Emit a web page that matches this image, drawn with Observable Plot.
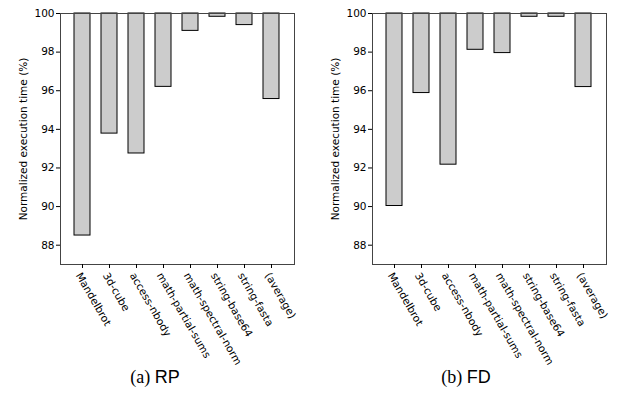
<!DOCTYPE html>
<html>
<head>
<meta charset="utf-8">
<script src="https://cdn.jsdelivr.net/npm/d3@7"></script>
<script src="https://cdn.jsdelivr.net/npm/@observablehq/plot@0.6"></script>
<style>
  html, body { margin: 0; padding: 0; background: #fff; }
  #wrap { position: relative; width: 623px; height: 401px; overflow: hidden; }
  .panel { position: absolute; top: 0; }
  .panel svg { overflow: visible; }
  .cap { position: absolute; top: 367px; width: 200px; text-align: center; font-size: 18px; color: #000; white-space: nowrap; }
  .cap .s { font-family: "Liberation Serif", serif; }
  .cap .a { font-family: "Liberation Sans", sans-serif; }
</style>
</head>
<body>
<div id="wrap">
  <div class="panel" id="p1" style="left:0px"></div>
  <div class="panel" id="p2" style="left:312px"></div>
  <div class="cap" style="left:55px"><span class="s">(a)</span> <span class="a">RP</span></div>
  <div class="cap" style="left:366px"><span class="s">(b)</span> <span class="a">FD</span></div>
</div>
<script>
const benchmarks = ["Mandelbrot", "3d-cube", "access-nbody", "math-partial-sums", "math-spectral-norm", "string-base64", "string-fasta", "(average)"];
const rpValues = [88.5, 93.78, 92.75, 96.2, 99.1, 99.83, 99.4, 95.57];
const fdValues = [90.03, 95.88, 92.17, 98.12, 97.95, 99.83, 99.83, 96.19];
const yTicks = [88, 90, 92, 94, 96, 98, 100];
const yLabel = "Normalized execution time (%)";

function makePanel(values, marginRight) {
  const data = benchmarks.map((name, i) => ({name, value: values[i]}));
  return Plot.plot({
    width: 311,
    height: 360,
    marginLeft: 60,
    marginRight: marginRight,
    marginTop: 13,
    marginBottom: 96,
    style: {fontFamily: "'DejaVu Sans', sans-serif", fontSize: "10.5px", color: "#000", background: "transparent", overflow: "visible"},
    x: {domain: benchmarks, paddingInner: 0.4, paddingOuter: 0.38},
    y: {domain: [87, 100]},
    marks: [
      Plot.barY(data, {x: "name", y1: "value", y2: 100, fill: "#cccccc", stroke: "#000", strokeWidth: 1}),
      Plot.frame({stroke: "#444", strokeWidth: 1}),
      Plot.axisY({ticks: yTicks, tickSize: 4, tickPadding: 2, label: yLabel, labelAnchor: "center", labelArrow: "none", labelOffset: 41, fontSize: 10.5}),
      Plot.axisX({tickSize: 4, tickFormat: () => "", label: null}),
      Plot.axisX({tickSize: 0, tickPadding: 5, tickRotate: 60, label: null, fontSize: 10.5, dx: -4, dy: 4})
    ]
  });
}
document.getElementById("p1").appendChild(makePanel(rpValues, 17));
document.getElementById("p2").appendChild(makePanel(fdValues, 17));
</script>
</body>
</html>
